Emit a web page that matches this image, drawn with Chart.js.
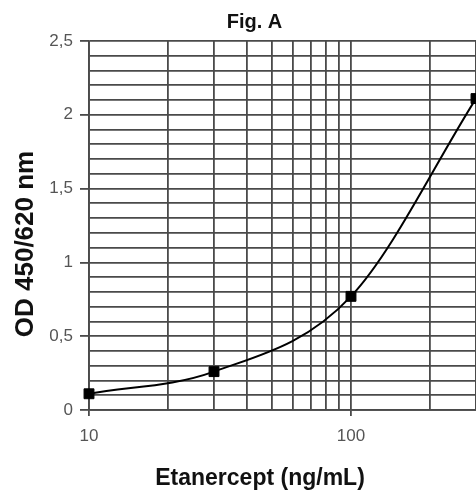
<!DOCTYPE html>
<html>
<head>
<meta charset="utf-8">
<script src="https://cdn.jsdelivr.net/npm/chart.js@4.4.1/dist/chart.umd.min.js"></script>
<style>
  html, body { margin: 0; padding: 0; background: #fff; }
  #wrap { width: 476px; height: 497px; }
</style>
</head>
<body>
<div id="wrap"><canvas id="chart" width="476" height="497"></canvas></div>
<script>
// concentration (ng/mL) and measured OD
const concentrations = [10, 30, 100, 300];
const odValues = [0.11, 0.26, 0.77, 2.11];

// vertical grid lines on the log axis, and the ones that get a label
const xGridValues = [10, 20, 30, 40, 50, 60, 70, 80, 90, 100, 200, 300];
const xLabelValues = [10, 100];
const yLabelValues = [0, 0.5, 1, 1.5, 2, 2.5];

const FONT = "'Liberation Sans', Arial, sans-serif";
const GRID = '#4a4a4a';

const isLabelY = v => yLabelValues.some(l => Math.abs(l - v) < 1e-6);
const isLabelX = v => xLabelValues.includes(v);

// draws the figure title and the two axis titles
const titlesPlugin = {
  id: 'titles',
  afterDraw(chart) {
    const ctx = chart.ctx;
    ctx.save();
    ctx.fillStyle = '#111';
    ctx.textAlign = 'center';
    ctx.textBaseline = 'alphabetic';

    ctx.font = 'bold 20px ' + FONT;
    ctx.fillText('Fig. A', 254.5, 28);

    ctx.font = 'bold 23px ' + FONT;
    ctx.fillText('Etanercept (ng/mL)', 260, 485);

    ctx.translate(33, 244);
    ctx.rotate(-Math.PI / 2);
    ctx.font = 'bold 26px ' + FONT;
    ctx.fillText('OD 450/620 nm', 0, 0);
    ctx.restore();
  }
};

new Chart(document.getElementById('chart'), {
  type: 'line',
  data: {
    datasets: [{
      data: concentrations.map((c, i) => ({ x: c, y: odValues[i] })),
      borderColor: '#000',
      borderWidth: 2,
      backgroundColor: '#000',
      pointStyle: 'rect',
      pointRadius: 7,
      pointBorderWidth: 1,
      pointBorderColor: '#000',
      pointBackgroundColor: '#000',
      cubicInterpolationMode: 'monotone',
      clip: false
    }]
  },
  options: {
    responsive: false,
    animation: false,
    layout: { autoPadding: false, padding: { top: 41, left: 0, right: 0, bottom: 0 } },
    plugins: {
      legend: { display: false },
      tooltip: { enabled: false },
      title: { display: false }
    },
    scales: {
      x: {
        type: 'logarithmic',
        min: 10,
        max: 300,
        afterBuildTicks: s => { s.ticks = xGridValues.map(v => ({ value: v })); },
        afterFit: s => { s.height = 87; s.paddingRight = 0; s.paddingLeft = 0; },
        grid: {
          color: GRID,
          lineWidth: 1.8,
          tickLength: 6,
          tickColor: c => (c.tick && isLabelX(c.tick.value)) ? GRID : 'rgba(0,0,0,0)'
        },
        border: { color: GRID, width: 1.8 },
        ticks: {
          autoSkip: false,
          maxRotation: 0,
          padding: 10,
          color: '#555',
          font: { family: FONT, size: 17 },
          callback: v => isLabelX(v) ? String(v) : ''
        }
      },
      y: {
        min: 0,
        max: 2.5,
        afterFit: s => { s.width = 89; },
        ticks: {
          stepSize: 0.1,
          autoSkip: false,
          padding: 7,
          color: '#555',
          font: { family: FONT, size: 17 },
          callback: v => isLabelY(v) ? String(Math.round(v * 10) / 10).replace('.', ',') : ''
        },
        grid: {
          color: GRID,
          lineWidth: 1.8,
          tickLength: 9,
          tickColor: c => (c.tick && isLabelY(c.tick.value)) ? GRID : 'rgba(0,0,0,0)'
        },
        border: { color: GRID, width: 1.8 }
      }
    }
  },
  plugins: [titlesPlugin]
});
</script>
</body>
</html>
